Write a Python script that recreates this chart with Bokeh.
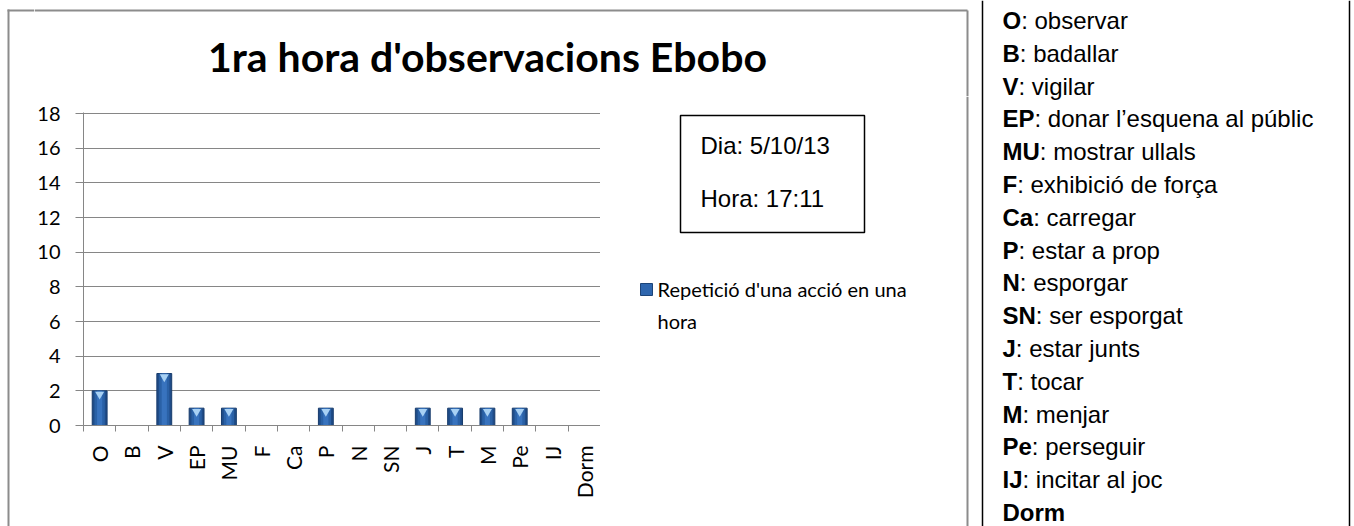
import math
from bokeh.plotting import figure
from bokeh.layouts import row, column
from bokeh.models import (Range1d, LinearAxis, FixedTicker, ColumnDataSource, Label)
from bokeh.embed import file_html
from bokeh.resources import INLINE

# ---------------- data ----------------
categories = ["O", "B", "V", "EP", "MU", "F", "Ca", "P", "N", "SN", "J", "T", "M", "Pe", "IJ", "Dorm"]
counts = [2, 0, 3, 1, 1, 0, 0, 1, 0, 0, 1, 1, 1, 1, 0, 0]
y_ticks = [0, 2, 4, 6, 8, 10, 12, 14, 16, 18]
title_text = "1ra hora d'observacions Ebobo"
series_lines = ["Repetició d'una acció en una", "hora"]
info_lines = ["Dia: 5/10/13", "Hora: 17:11"]
codes = ["O", "B", "V", "EP", "MU", "F", "Ca", "P", "N", "SN", "J", "T", "M", "Pe", "IJ", "Dorm"]
meanings = [": observar", ": badallar", ": vigilar", ": donar l\u2019esquena al públic",
            ": mostrar ullals", ": exhibició de força", ": carregar", ": estar a prop",
            ": esporgar", ": ser esporgat", ": estar junts", ": tocar", ": menjar",
            ": perseguir", ": incitar al joc", ""]

# ---------------- layout constants (page pixels) ----------------
PAGE_W, PAGE_H = 1354, 526
SPLIT_X = 975        # left block | right panel
TITLE_H = 96         # title band height
GAP_W = 34           # full-height strip holding the left border
CHART_R = 600        # right edge of plot frame
FRAME_L, FRAME_T, FRAME_B = 82, 112, 425
GRAY = "#868686"
BORDER_GRAY = "#8C8C8C"
CHART_FONT = "Lato"
TEXT_FONT = "Liberation Sans"

# Arial Bold advance widths (per 1000 em) for code letters
BOLD_W = {"O": 778, "B": 722, "V": 667, "E": 667, "P": 667, "M": 833, "U": 722, "F": 611,
          "C": 722, "a": 556, "N": 722, "S": 667, "J": 556, "T": 611, "e": 556, "I": 278,
          "D": 722, "o": 611, "r": 389, "m": 889}


def canvas(x0, x1, y0, y1):
    """A figure whose frame fills it, with page-pixel coordinates (y downwards)."""
    f = figure(width=x1 - x0, height=y1 - y0, x_range=Range1d(x0, x1), y_range=Range1d(y1, y0),
               x_axis_location=None, y_axis_location=None, title=None, min_border=0,
               frame_align=False, output_backend="svg", toolbar_location=None)
    f.xgrid.visible = False
    f.ygrid.visible = False
    f.outline_line_color = None
    f.background_fill_color = "white"
    f.border_fill_color = "white"
    return f


# ---------------- left border strip (full height) ----------------
S = canvas(0, GAP_W, 0, PAGE_H)
S.quad(left=[7, 7], right=[9, GAP_W], top=[9, 9], bottom=[PAGE_H, 11],
       fill_color=BORDER_GRAY, line_color=None)

# ---------------- title band ----------------
T = canvas(GAP_W, SPLIT_X, 0, TITLE_H)
T.segment(x0=[GAP_W, 967], y0=[10, 10], x1=[967, 967], y1=[10, TITLE_H],
          line_color=BORDER_GRAY, line_width=2)
T.add_layout(Label(x=487, y=56, text=title_text, text_align="center", text_baseline="middle",
                   text_font=CHART_FONT, text_font_style="bold", text_font_size="41px",
                   text_color="black"))

# ---------------- chart ----------------
n = len(categories)
centers = [i + 0.5 for i in range(n)]
FH = FRAME_B - FRAME_T
y_top = max(y_ticks) * FH / (FH - 1)   # leaves the 18 grid line one pixel inside the frame

A = figure(width=CHART_R - GAP_W, height=PAGE_H - TITLE_H,
           x_range=Range1d(0, n), y_range=Range1d(0, y_top),
           x_axis_location=None, y_axis_location="left", title=None, frame_align=False,
           output_backend="svg", toolbar_location=None,
           min_border_left=FRAME_L - GAP_W, min_border_right=0,
           min_border_top=FRAME_T - TITLE_H, min_border_bottom=PAGE_H - FRAME_B)
A.outline_line_color = None
A.background_fill_color = "white"
A.border_fill_color = "white"
A.xgrid.visible = False
A.ygrid.grid_line_color = GRAY
A.ygrid.grid_line_width = 1

ya = A.yaxis[0]
ya.ticker = FixedTicker(ticks=y_ticks, minor_ticks=[])
ya.axis_line_color = GRAY
ya.major_tick_line_color = GRAY
ya.minor_tick_line_color = None
ya.major_tick_out = 8
ya.major_tick_in = 0
ya.major_label_standoff = 15
ya.major_label_text_font = CHART_FONT
ya.major_label_text_font_size = "20px"
ya.major_label_text_color = "black"

edge_ticks = list(range(n + 1))
ea = LinearAxis(ticker=FixedTicker(ticks=edge_ticks, minor_ticks=[]),
                major_tick_out=6, major_tick_in=0, major_label_standoff=0,
                major_label_text_font_size="1px", major_label_text_color=None,
                major_label_overrides={t: "" for t in edge_ticks},
                axis_line_color=GRAY, major_tick_line_color=GRAY, minor_tick_line_color=None)
A.add_layout(ea, "below")
ca = LinearAxis(ticker=FixedTicker(ticks=centers, minor_ticks=[]),
                major_label_overrides={c: lab for c, lab in zip(centers, categories)},
                axis_line_color=None, major_tick_line_color=None, minor_tick_line_color=None,
                major_tick_out=0, major_tick_in=0, major_label_orientation=math.pi / 2,
                major_label_standoff=14, major_label_text_font=CHART_FONT,
                major_label_text_font_size="21px", major_label_text_color="black")
A.add_layout(ca, "below")

nz_x = [c for c, v in zip(centers, counts) if v > 0]
nz_val = [v for v in counts if v > 0]
src = ColumnDataSource(dict(x=nz_x, val=nz_val, tip=[v - 0.2 for v in nz_val]))
A.vbar(x="x", top="val", width=0.46, source=src, fill_color="#1F4C88", line_color="#173B6B", line_width=1)
A.vbar(x="x", top="val", width=0.32, source=src, fill_color="#2A61A6", line_color=None)
A.vbar(x="x", top="val", width=0.16, source=src, fill_color="#3873BE", line_color=None)
A.scatter(x="x", y="tip", source=src, marker="inverted_triangle", size=9,
          fill_color="#A8D1F4", line_color=None)

# ---------------- legend / info area ----------------
B = canvas(CHART_R, SPLIT_X, TITLE_H, PAGE_H)
B.segment(x0=[967], y0=[TITLE_H], x1=[967], y1=[PAGE_H], line_color=BORDER_GRAY, line_width=2)
B.quad(left=[680], right=[864], top=[115], bottom=[232], fill_color="white",
       line_color="black", line_width=1.5)
for i, t in enumerate(info_lines):
    B.add_layout(Label(x=700, y=145 + 53 * i, text=t, text_align="left", text_baseline="middle",
                       text_font=TEXT_FONT, text_font_size="24px", text_color="black"))
B.quad(left=[640], right=[652], top=[283], bottom=[295], fill_color="#2E66AE",
       line_color="#1C4478", line_width=1)
for i, t in enumerate(series_lines):
    B.add_layout(Label(x=657, y=288 + 32 * i, text=t, text_align="left", text_baseline="middle",
                       text_font=CHART_FONT, text_font_size="20px", text_color="black"))

# ---------------- right panel ----------------
C = canvas(SPLIT_X, PAGE_W, 0, PAGE_H)
C.segment(x0=[982, 1349], y0=[0, 0], x1=[982, 1349], y1=[PAGE_H, PAGE_H],
          line_color="black", line_width=1.5)
FS = 24
for i, (c, m) in enumerate(zip(codes, meanings)):
    yy = 20 + 32.8 * i
    C.add_layout(Label(x=1002, y=yy, text=c, text_align="left", text_baseline="middle",
                       text_font=TEXT_FONT, text_font_style="bold", text_font_size=f"{FS}px",
                       text_color="black"))
    if m:
        wcode = sum(BOLD_W[ch] for ch in c) / 1000 * FS
        C.add_layout(Label(x=1002 + wcode, y=yy, text=m, text_align="left", text_baseline="middle",
                           text_font=TEXT_FONT, text_font_size=f"{FS}px", text_color="black"))

layout = row(S, column(T, row(A, B, spacing=0), spacing=0), C, spacing=0)
open("out.html", "w").write(file_html(layout, INLINE))
